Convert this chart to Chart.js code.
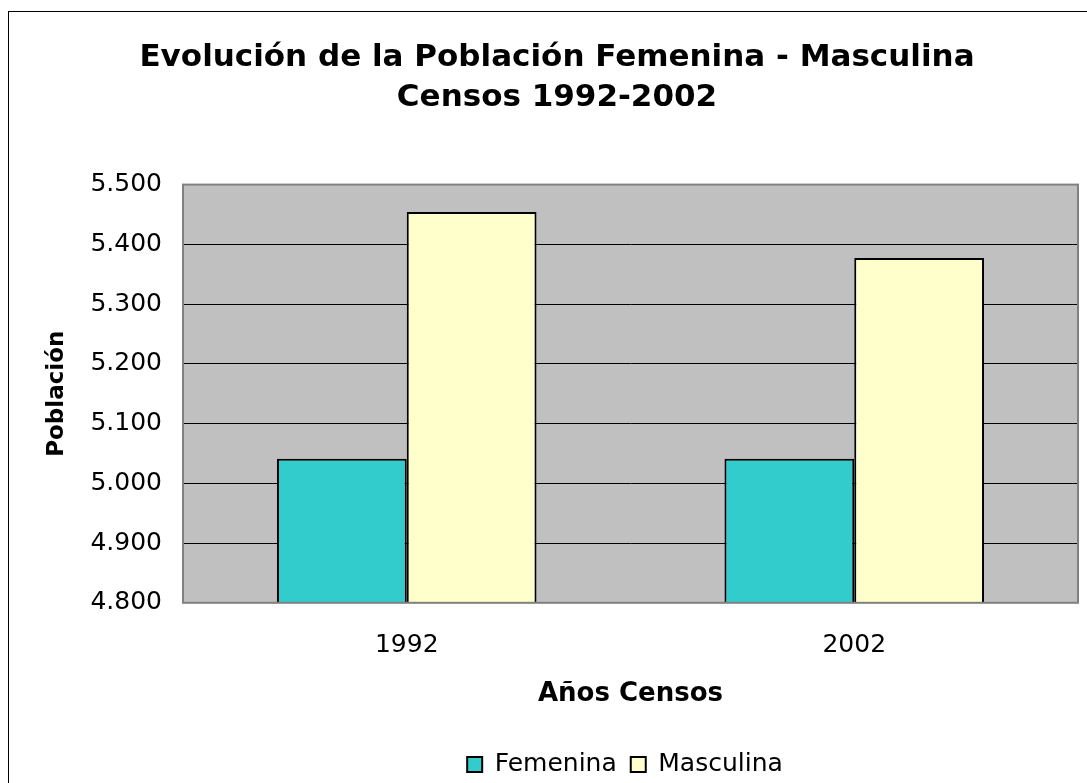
<!DOCTYPE html>
<html>
<head>
<meta charset="utf-8">
<script src="https://cdn.jsdelivr.net/npm/chart.js@4"></script>
<style>
  html, body { margin: 0; padding: 0; background: #fff; }
  #frame { position: absolute; left: 8px; top: 11px; width: 1100px; height: 800px; border: 1px solid #000; }
  #wrap { position: absolute; left: 0; top: 0; width: 1087px; height: 783px; }
</style>
</head>
<body>
<div id="frame"></div>
<div id="wrap"><canvas id="myChart"></canvas></div>
<script>
const years = ['1992', '2002'];
const femenina = [5041, 5041];
const masculina = [5454, 5377];
const yMin = 4800;
const yMax = 5500;
const yStep = 100;

const FONT = '"DejaVu Sans", sans-serif';

// gray plot background + gray frame like the old spreadsheet chart
const plotBox = {
  id: 'plotBox',
  afterLayout(chart) {
    // legend sits a bit right of centre in the original
    if (chart.legend) {
      chart.legend.left += 68;
      chart.legend.right += 68;
    }
  },
  beforeDraw(chart) {
    const a = chart.chartArea, c = chart.ctx;
    c.save();
    c.fillStyle = '#C0C0C0';
    c.fillRect(a.left, a.top, a.right - a.left, a.bottom - a.top);
    c.restore();
  },
  afterDatasetsDraw(chart) {
    const a = chart.chartArea, c = chart.ctx;
    c.save();
    c.strokeStyle = '#808080';
    c.lineWidth = 2;
    c.strokeRect(a.left, a.top, a.right - a.left, a.bottom - a.top);
    c.restore();
  }
};

function fmt(v) {
  return String(v).replace(/\B(?=(\d{3})+(?!\d))/g, '.');
}

const ctx = document.getElementById('myChart');

new Chart(ctx, {
  type: 'bar',
  data: {
    labels: years,
    datasets: [{
      label: 'Femenina',
      data: femenina,
      backgroundColor: '#33CCCC',
      borderColor: '#000',
      borderWidth: 2,
      borderSkipped: 'bottom'
    }, {
      label: 'Masculina',
      data: masculina,
      backgroundColor: '#FFFFCC',
      borderColor: '#000',
      borderWidth: 2,
      borderSkipped: 'bottom'
    }]
  },
  options: {
    responsive: true,
    maintainAspectRatio: false,
    animation: false,
    layout: { padding: { left: 36, right: 9, top: 0, bottom: -4 } },
    datasets: { bar: { categoryPercentage: 0.58, barPercentage: 1.0 } },
    scales: {
      x: {
        grid: { display: false, drawTicks: false },
        border: { display: false },
        ticks: { color: '#000', font: { family: FONT, size: 25 }, padding: 28 },
        title: {
          display: true, text: 'Años Censos', color: '#000',
          font: { family: FONT, size: 26, weight: 'bold' },
          padding: { top: -10, bottom: 28 }
        }
      },
      y: {
        min: yMin,
        max: yMax,
        afterFit(scale) { scale.width = 147; },
        grid: { color: '#000', lineWidth: 1, drawTicks: false },
        border: { display: false },
        ticks: {
          stepSize: yStep, color: '#000', padding: 21,
          font: { family: FONT, size: 25 },
          callback: (v) => fmt(v)
        },
        title: {
          display: true, text: 'Población', color: '#000',
          font: { family: FONT, size: 23, weight: 'bold' },
          padding: { top: 7, bottom: 0 }
        }
      }
    },
    plugins: {
      title: {
        display: true,
        text: ['Evolución de la Población Femenina - Masculina', 'Censos 1992-2002'],
        color: '#000',
        font: { family: FONT, size: 31, weight: 'bold', lineHeight: 1.3 },
        padding: { top: 38, bottom: 66 }
      },
      legend: {
        position: 'bottom',
        labels: {
          color: '#000',
          font: { family: FONT, size: 25 },
          boxWidth: 15,
          boxHeight: 15,
          padding: 14
        }
      },
      tooltip: { enabled: false }
    }
  },
  plugins: [plotBox]
});
</script>
</body>
</html>
